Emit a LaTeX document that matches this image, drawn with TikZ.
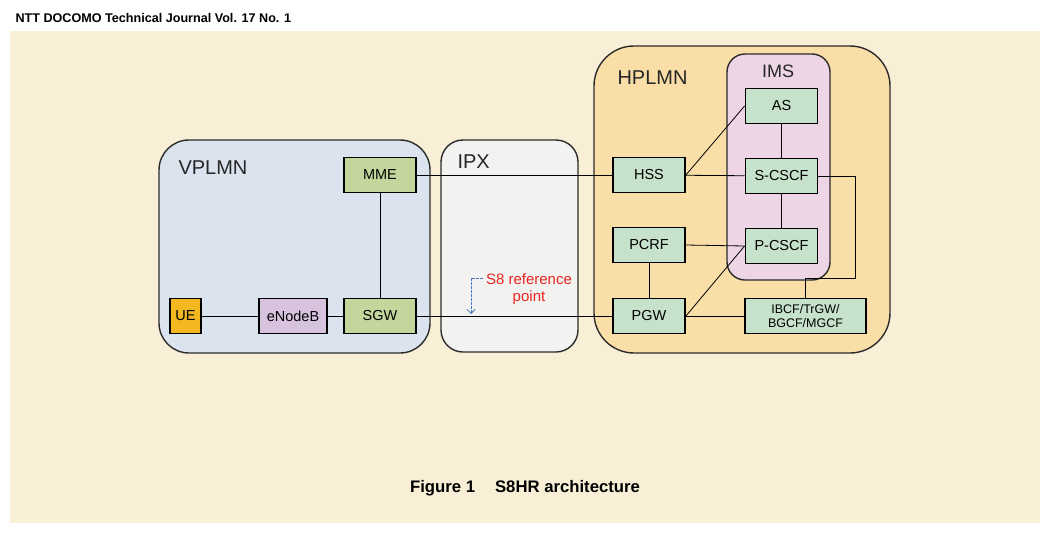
\documentclass[tikz,border=0pt]{standalone}
\usepackage{fontspec}
\setmainfont{Liberation Sans}
\usetikzlibrary{arrows.meta}

\definecolor{cream}{HTML}{F8EFD6}
\definecolor{vplmnfill}{HTML}{DBE4EE}
\definecolor{ipxfill}{HTML}{F2F2F0}
\definecolor{hplmnfill}{HTML}{F9DEA8}
\definecolor{imsfill}{HTML}{EDD5E6}
\definecolor{olive}{HTML}{C3D69B}
\definecolor{lilac}{HTML}{D8C3DF}
\definecolor{ueyellow}{HTML}{F3B81F}
\definecolor{mint}{HTML}{C6E2CB}
\definecolor{framegray}{HTML}{2B2B2B}
\definecolor{refred}{HTML}{E8251E}
\definecolor{refblue}{HTML}{4A74C0}

\begin{document}
\begin{tikzpicture}[x=1pt,y=-1pt,
    area/.style={draw=framegray,line width=1.4pt},
    elem/.style={draw=black,line width=1.8pt,minimum width=72pt,minimum height=35pt,
        inner sep=1pt,font=\fontsize{14.5}{16}\selectfont},
    link/.style={draw=black,line width=0.8pt},
    netname/.style={font=\fontsize{20}{22}\selectfont,text=black!85}]
    \useasboundingbox (0,0) rectangle (1054,536);
    \fill[white] (0,0) rectangle (1054,536);
    \fill[cream] (10,31) rectangle (1040,523);
    \node[anchor=west,font=\bfseries\fontsize{12.6}{14}\selectfont] (header) at (12,18)
        {NTT DOCOMO Technical Journal Vol. 17 No. 1};

    % networks
    \draw[area,fill=vplmnfill,rounded corners=30pt] (159,140) rectangle (430,353);
    \node[netname,anchor=west] (vplmn) at (175,168) {VPLMN};
    \draw[area,fill=ipxfill,rounded corners=22pt] (441,140) rectangle (578,352);
    \node[netname,anchor=west] (ipx) at (454,162) {IPX};
    \draw[area,fill=hplmnfill,rounded corners=40pt] (594,46) rectangle (890,353);
    \node[netname,anchor=west] (hplmn) at (614,78) {HPLMN};
    \draw[area,fill=imsfill,rounded corners=18pt] (727,54) rectangle (830,280);
    \node[netname,font=\fontsize{18}{20}\selectfont] (ims) at (778,71) {IMS};

    % VPLMN
    \node[elem,fill=olive] (mme) at (380,175) {MME};
    \node[elem,fill=olive] (sgw) at (380,316) {SGW};
    \node[elem,fill=lilac,minimum width=68pt] (enb) at (293,316) {eNodeB};
    \node[elem,fill=ueyellow,minimum width=31pt] (ue) at (185.5,316) {UE};

    % HPLMN
    \node[elem,fill=mint] (hss) at (649,175) {HSS};
    \node[elem,fill=mint] (pcrf) at (649,245) {PCRF};
    \node[elem,fill=mint] (pgw) at (649,316) {PGW};
    \node[elem,fill=mint] (as) at (781.5,106) {AS};
    \node[elem,fill=mint] (scscf) at (781.5,176) {S-CSCF};
    \node[elem,fill=mint] (pcscf) at (781.5,246) {P-CSCF};
    \node[elem,fill=mint,minimum width=121pt,align=center,
        font=\fontsize{12.5}{14}\selectfont] (ibcf) at (805.5,316) {IBCF/TrGW/\\BGCF/MGCF};

    % links
    \draw[link] (ue) -- (enb);
    \draw[link] (enb) -- (sgw);
    \draw[link] (mme) -- (sgw);
    \draw[link] (mme) -- (hss);
    \draw[link] (sgw) -- (pgw);
    \draw[link] (hss.east) -- (as.west);
    \draw[link] (hss) -- (scscf);
    \draw[link] (as) -- (scscf);
    \draw[link] (scscf) -- (pcscf);
    \draw[link] (pcrf.east) -- (pcscf.west);
    \draw[link] (pgw.east) -- (pcscf.west);
    \draw[link] (pcrf) -- (pgw);
    \draw[link] (pgw) -- (ibcf);
    \coordinate (bend) at (855,278);
    \draw[link] (scscf.east) -| (bend) -| (ibcf.north);

    % S8 reference point
    \node[text=refred,align=center,font=\fontsize{15}{17}\selectfont] (s8) at (529,289)
        {S8 reference\\point};
    \coordinate (s8tip) at (471,314);
    \draw[refblue,line width=0.8pt,dash pattern=on 2.5pt off 1.5pt,-{Straight Barb[length=4pt,width=8pt]}]
        (s8.north west) ++(0,8) -| (s8tip);

    \node[font=\bfseries\fontsize{16.7}{18}\selectfont] (caption) at (525,488)
        {Figure 1\hspace{1.2em}S8HR architecture};
\end{tikzpicture}
\end{document}
